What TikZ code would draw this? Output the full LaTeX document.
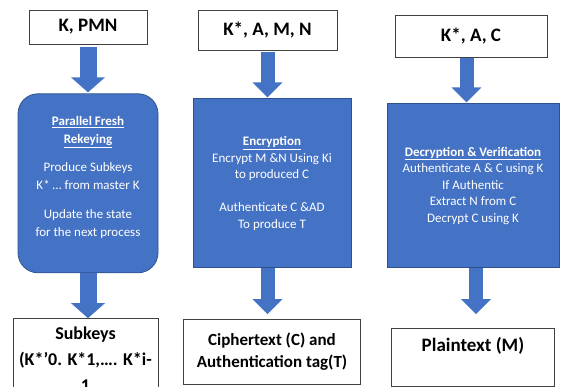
\documentclass[tikz,border=0pt]{standalone}
\usepackage{fontspec}
\setmainfont{Carlito}
\usetikzlibrary{arrows.meta, positioning}
\definecolor{stageblue}{HTML}{4472C4}
\definecolor{stageedge}{HTML}{2F528F}
\tikzstyle{block} = [rectangle, align=center, inner sep=3pt]
\tikzstyle{inbox} = [draw=black!75, block, fill=white, line width=0.8pt, font=\fontsize{19}{23}\selectfont\bfseries]
\tikzstyle{outbox} = [draw=black!75, block, fill=white, line width=0.8pt]
\tikzstyle{stage} = [draw=stageedge, block, fill=stageblue, text=white, line width=0.8pt, font=\fontsize{13}{16.5}\selectfont]
\tikzstyle{flow} = [draw=stageblue, line width=14pt, -{Triangle[width=29pt, length=15pt]}]
\tikzstyle{wideflow} = [flow, line width=17pt, -{Triangle[width=33pt, length=15pt]}]

\begin{document}
\begin{tikzpicture}[x=1pt, y=-1pt]
    \useasboundingbox (0,0) rectangle (566,387);
    \clip (0,0) rectangle (566,387);

    % Inputs.
    \node (in1) [inbox, minimum width=118pt, minimum height=34pt] at (88,27) {K, PMN};
    \node (in2) [inbox, minimum width=139pt, minimum height=40pt] at (267.5,30) {K*, A, M, N};
    \node (in3) [inbox, minimum width=152pt, minimum height=42pt] at (471,36) {K*, A, C};

    % Stages.
    \node (proc1) [stage, rounded corners=20pt, minimum width=140pt, minimum height=179pt, text depth=13pt,
        font=\fontsize{13}{18}\selectfont, below=49pt of in1] {%
        \textbf{\underline{Parallel Fresh}}\\ \textbf{\underline{Rekeying}}\\[10pt]
        Produce Subkeys\\ K* … from master K\\[11pt]
        Update the state\\ for the next process};
    \node (proc2) [stage, minimum width=158pt, minimum height=169pt, below=48pt of in2, xshift=4.5pt] {%
        \textbf{\underline{Encryption}}\\ Encrypt M \&N Using Ki\\ to produced C\\[16.5pt]
        Authenticate C \&AD\\ To produce T};
    \node (proc3) [stage, minimum width=172pt, minimum height=164pt, below=46pt of in3, xshift=2pt] {%
        \textbf{\underline{Decryption \& Verification}}\\ Authenticate A \& C using K\\
        If Authentic\\ Extract N from C\\ Decrypt C using K};

    % Outputs.
    \node (out1) [outbox, minimum width=145pt, inner ysep=8pt, font=\fontsize{18}{26}\selectfont\bfseries,
        below=45pt of proc1, xshift=-2.5pt] {Subkeys\\ (K*’0. K*1,…. K*i-\\ 1};
    \node (out2) [outbox, minimum width=177pt, minimum height=65pt, font=\fontsize{17}{22}\selectfont\bfseries,
        below=51pt of proc2] {Ciphertext (C) and\\ Authentication tag(T)};
    \node (out3) [outbox, minimum width=163pt, minimum height=58pt, text depth=27pt,
        font=\fontsize{19}{23}\selectfont\bfseries, below=60pt of proc3] {Plaintext (M)};

    % Arrows.
    \draw [wideflow, shorten <=3pt, shorten >=1pt] (in1) -- (proc1);
    \draw [wideflow] (proc1) -- (proc1.south |- out1.north);
    \draw [flow, shorten <=2pt, shorten >=1pt] (in2) -- (in2.south |- proc2.north);
    \draw [flow, shorten >=5pt] (in2.south |- proc2.south) -- (in2.south |- out2.north);
    \draw [flow, shorten <=1pt, shorten >=1pt] ([xshift=-4.5pt]in3.south) -- ([xshift=-4.5pt]in3.south |- proc3.north);
    \draw [flow, shorten >=14pt] ([xshift=3pt]proc3.south) -- ([xshift=3pt]proc3.south |- out3.north);
\end{tikzpicture}
\end{document}
